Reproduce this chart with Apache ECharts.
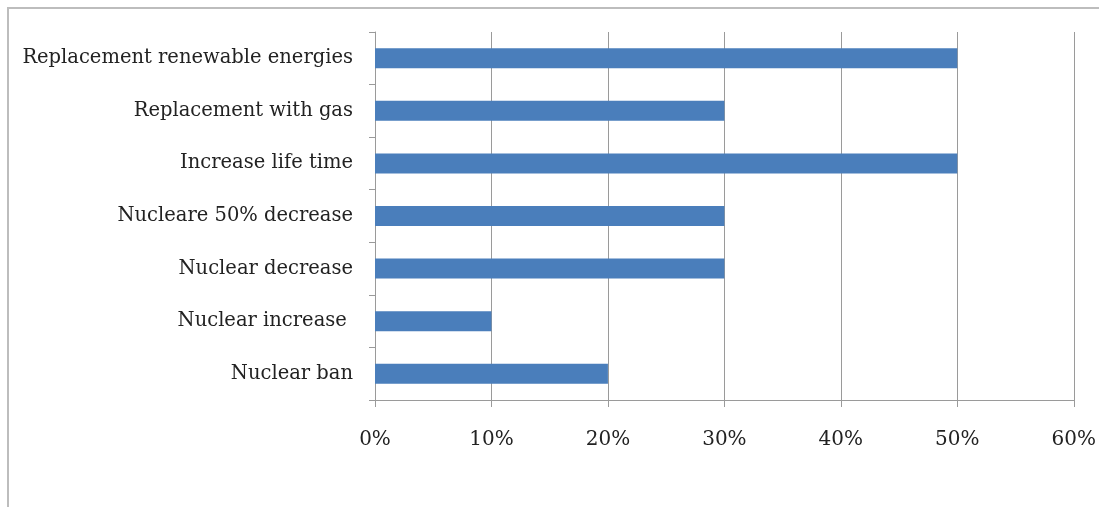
<!DOCTYPE html>
<html>
<head>
<meta charset="utf-8">
<script src="https://cdn.jsdelivr.net/npm/echarts@6/dist/echarts.min.js"></script>
<style>
  html, body { margin: 0; padding: 0; background: #ffffff; }
  #chart { width: 1099px; height: 507px; }
</style>
</head>
<body>
<div id="chart"></div>
<script>
// Options listed bottom-to-top as the category axis draws them
const categories = [
  'Nuclear ban',
  'Nuclear increase ',
  'Nuclear decrease',
  'Nucleare 50% decrease',
  'Increase life time',
  'Replacement with gas',
  'Replacement renewable energies'
];
const shares = [20, 10, 30, 30, 50, 30, 50];
const tickValues = [0, 10, 20, 30, 40, 50, 60];

const labelFont = 'DejaVu Serif';
const chart = echarts.init(document.getElementById('chart'), null, { renderer: 'canvas' });

chart.setOption({
  backgroundColor: '#ffffff',
  animation: false,
  graphic: [
    {
      type: 'polyline',
      shape: { points: [[8, 507], [8, 8], [1099, 8]] },
      style: { stroke: '#bdbdbd', lineWidth: 2, fill: null },
      silent: true
    }
  ],
  grid: { left: 375, right: 24, top: 32, bottom: 107, containLabel: false },
  xAxis: {
    type: 'value',
    min: tickValues[0],
    max: tickValues[tickValues.length - 1],
    interval: 10,
    axisLine: { show: true, lineStyle: { color: '#9a9a9a', width: 1 } },
    axisTick: { show: true, length: 7, lineStyle: { color: '#9a9a9a' } },
    splitLine: { show: true, lineStyle: { color: '#9a9a9a', width: 1 } },
    axisLabel: {
      formatter: v => v + '%',
      margin: 30,
      color: '#222222',
      fontFamily: labelFont,
      fontSize: 20
    }
  },
  yAxis: {
    type: 'category',
    data: categories,
    axisLine: { show: true, lineStyle: { color: '#9a9a9a', width: 1 } },
    axisTick: { show: true, length: 6, lineStyle: { color: '#9a9a9a' } },
    axisLabel: {
      margin: 22,
      color: '#222222',
      fontFamily: labelFont,
      fontSize: 19.5
    }
  },
  series: [
    {
      type: 'bar',
      data: shares,
      barWidth: 20,
      itemStyle: { color: '#4a7ebb' }
    }
  ]
});
</script>
</body>
</html>
